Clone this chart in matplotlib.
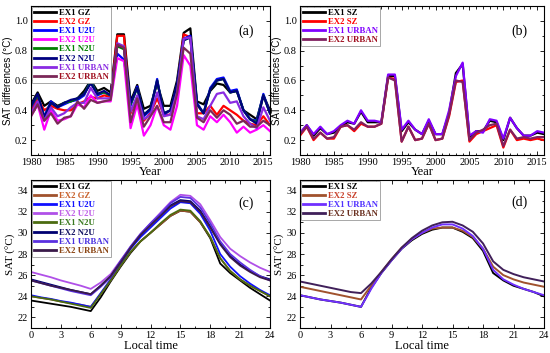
import numpy as np
import matplotlib.pyplot as plt
from matplotlib.ticker import MultipleLocator

plt.rcParams['font.family'] = ['Liberation Serif', 'DejaVu Serif']

years = np.arange(1980, 2017)
hours = np.arange(0, 25)

# panel (a): Guangzhou-type annual SAT differences
a_labels = ["EX1 GZ", "EX2 GZ", "EX1 U2U", "EX2 U2U", "EX1 N2U", "EX2 N2U", "EX1 URBAN", "EX2 URBAN"]
a_ex1_gz = [0.44, 0.52, 0.43, 0.46, 0.43, 0.45, 0.46, 0.48, 0.53, 0.60, 0.53, 0.55, 0.52, 0.91, 0.91, 0.46, 0.57, 0.41, 0.43,
            0.58, 0.43, 0.43, 0.60, 0.92, 0.95, 0.46, 0.44, 0.53, 0.58, 0.57, 0.52, 0.53, 0.40, 0.37, 0.34, 0.50, 0.40]
a_ex2_gz = [0.40, 0.48, 0.40, 0.43, 0.41, 0.40, 0.40, 0.44, 0.46, 0.49, 0.48, 0.50, 0.49, 0.90, 0.90, 0.38, 0.49, 0.33, 0.38,
            0.48, 0.37, 0.37, 0.56, 0.91, 0.89, 0.38, 0.38, 0.43, 0.37, 0.43, 0.40, 0.37, 0.33, 0.31, 0.30, 0.36, 0.30]
a_ex1_u2u = [0.42, 0.50, 0.36, 0.46, 0.42, 0.44, 0.46, 0.47, 0.50, 0.60, 0.50, 0.52, 0.50, 0.78, 0.74, 0.43, 0.56, 0.36, 0.40,
             0.61, 0.37, 0.40, 0.57, 0.88, 0.90, 0.45, 0.38, 0.55, 0.61, 0.62, 0.53, 0.54, 0.40, 0.34, 0.33, 0.51, 0.38]
a_ex2_u2u = [0.36, 0.44, 0.27, 0.40, 0.33, 0.34, 0.36, 0.44, 0.42, 0.50, 0.45, 0.46, 0.46, 0.75, 0.73, 0.28, 0.44, 0.23, 0.30,
             0.43, 0.30, 0.27, 0.43, 0.77, 0.70, 0.30, 0.27, 0.36, 0.32, 0.37, 0.32, 0.25, 0.29, 0.25, 0.27, 0.30, 0.26]
a_ex1_n2u = [0.43, 0.50, 0.35, 0.45, 0.42, 0.45, 0.46, 0.48, 0.51, 0.59, 0.51, 0.52, 0.50, 0.83, 0.81, 0.44, 0.55, 0.37, 0.41,
             0.60, 0.38, 0.40, 0.57, 0.87, 0.89, 0.44, 0.38, 0.54, 0.60, 0.61, 0.52, 0.53, 0.40, 0.34, 0.32, 0.50, 0.38]
a_ex2_n2u = [0.43, 0.51, 0.35, 0.45, 0.42, 0.45, 0.47, 0.48, 0.51, 0.58, 0.51, 0.53, 0.50, 0.84, 0.82, 0.45, 0.55, 0.37, 0.41,
             0.60, 0.38, 0.40, 0.58, 0.87, 0.89, 0.44, 0.38, 0.54, 0.60, 0.61, 0.52, 0.53, 0.40, 0.34, 0.31, 0.50, 0.38]
a_ex1_urban = [0.38, 0.46, 0.33, 0.42, 0.36, 0.38, 0.42, 0.45, 0.45, 0.55, 0.48, 0.48, 0.48, 0.85, 0.83, 0.39, 0.50, 0.34, 0.37,
               0.52, 0.36, 0.37, 0.52, 0.88, 0.89, 0.36, 0.34, 0.43, 0.51, 0.52, 0.45, 0.46, 0.36, 0.31, 0.28, 0.42, 0.33]
a_ex2_urban = [0.36, 0.44, 0.33, 0.38, 0.31, 0.35, 0.36, 0.46, 0.41, 0.47, 0.45, 0.46, 0.47, 0.84, 0.82, 0.32, 0.48, 0.29, 0.36,
               0.43, 0.32, 0.32, 0.51, 0.82, 0.78, 0.35, 0.32, 0.40, 0.35, 0.40, 0.37, 0.31, 0.33, 0.29, 0.29, 0.33, 0.30]
a_colors = ['black', '#ff0000', '#0000ff', '#ff00ff', '#008000', '#000080', '#8a2be2', '#7b2858']
a_text = ['black', '#ff0000', '#0000ff', '#ff00ff', '#008000', '#000080', '#8a2be2', '#a01020']

# panel (b): Shenzhen annual SAT differences
b_labels = ["EX1 SZ", "EX2 SZ", "EX1 URBAN", "EX2 URBAN"]
b_ex1_sz = [0.24, 0.30, 0.23, 0.28, 0.24, 0.25, 0.29, 0.32, 0.31, 0.39, 0.32, 0.32, 0.32, 0.63, 0.63, 0.26, 0.32, 0.27, 0.24,
            0.33, 0.24, 0.24, 0.38, 0.65, 0.71, 0.22, 0.26, 0.26, 0.33, 0.32, 0.20, 0.35, 0.28, 0.23, 0.23, 0.25, 0.24]
b_ex2_sz = [0.23, 0.29, 0.20, 0.25, 0.21, 0.21, 0.29, 0.30, 0.26, 0.31, 0.29, 0.29, 0.31, 0.62, 0.61, 0.19, 0.29, 0.20, 0.21,
            0.31, 0.20, 0.21, 0.36, 0.59, 0.60, 0.19, 0.24, 0.26, 0.28, 0.30, 0.15, 0.27, 0.20, 0.21, 0.20, 0.21, 0.20]
b_ex1_urban = [0.25, 0.30, 0.24, 0.29, 0.24, 0.26, 0.30, 0.33, 0.31, 0.40, 0.33, 0.33, 0.32, 0.64, 0.64, 0.27, 0.33, 0.27, 0.24,
               0.34, 0.24, 0.24, 0.40, 0.63, 0.72, 0.23, 0.26, 0.25, 0.34, 0.33, 0.21, 0.35, 0.28, 0.23, 0.23, 0.26, 0.25]
b_ex2_urban = [0.24, 0.29, 0.21, 0.25, 0.21, 0.22, 0.29, 0.30, 0.27, 0.32, 0.29, 0.29, 0.31, 0.62, 0.60, 0.19, 0.29, 0.20, 0.21,
               0.31, 0.20, 0.21, 0.37, 0.60, 0.59, 0.20, 0.25, 0.27, 0.30, 0.31, 0.16, 0.27, 0.21, 0.22, 0.21, 0.22, 0.22]
b_colors = ['black', '#ff0000', '#8000ff', '#802060']
b_text = ['black', '#ff0000', '#8000ff', '#a01020']

# panel (c): diurnal SAT, GZ
c_labels = a_labels
c_ex1_gz = [23.6, 23.45, 23.3, 23.15, 23.0, 22.8, 22.6, 23.9, 25.4, 26.8, 28.1, 29.2, 30.0, 30.8, 31.6, 32.1, 32.0, 31.0, 29.5,
            27.1, 26.2, 25.5, 24.8, 24.2, 23.6]
c_ex2_gz = [24.0, 23.85, 23.7, 23.5, 23.35, 23.2, 23.0, 24.2, 25.5, 26.9, 28.2, 29.2, 30.0, 30.8, 31.6, 32.1, 32.0, 31.0, 29.6,
            27.6, 26.4, 25.6, 25.0, 24.5, 24.0]
c_ex1_u2u = [24.1, 23.9, 23.75, 23.55, 23.4, 23.2, 23.0, 24.3, 25.6, 27.1, 28.5, 29.6, 30.5, 31.4, 32.3, 32.9, 32.8, 31.8, 30.2,
             28.0, 26.8, 25.9, 25.2, 24.6, 24.1]
c_ex2_u2u = [26.3, 26.05, 25.8, 25.5, 25.25, 25.0, 24.7, 25.3, 26.1, 27.4, 28.7, 29.9, 30.9, 31.9, 32.9, 33.6, 33.5, 32.7, 31.2,
             29.6, 28.5, 27.8, 27.2, 26.7, 26.3]
c_ex1_n2u = [24.0, 23.85, 23.7, 23.5, 23.3, 23.1, 22.9, 24.2, 25.5, 26.9, 28.2, 29.2, 30.0, 30.9, 31.7, 32.2, 32.1, 31.1, 29.6,
             27.6, 26.4, 25.6, 25.0, 24.5, 24.0]
c_ex2_n2u = [25.6, 25.35, 25.1, 24.85, 24.6, 24.4, 24.2, 25.0, 25.9, 27.3, 28.6, 29.8, 30.8, 31.7, 32.6, 33.1, 33.0, 32.1, 30.6,
             29.0, 27.8, 27.0, 26.4, 25.9, 25.6]
c_ex1_urban = [25.5, 25.25, 25.0, 24.75, 24.5, 24.3, 24.1, 24.9, 25.8, 27.3, 28.7, 29.9, 30.9, 31.8, 32.8, 33.4, 33.3, 32.4, 30.9,
               29.2, 28.0, 27.2, 26.5, 25.9, 25.5]
c_ex2_urban = [25.5, 25.25, 25.0, 24.8, 24.6, 24.4, 24.2, 25.0, 25.9, 27.2, 28.6, 29.8, 30.7, 31.6, 32.5, 33.0, 32.9, 32.0, 30.5,
               28.9, 27.7, 26.9, 26.3, 25.8, 25.5]
c_colors = ['black', '#a0522d', '#1010ff', '#b050e8', '#4b6b10', '#000070', '#5a30e0', '#3a1a4a']
c_text = ['black', '#c8602a', '#1010ff', '#c060e8', '#3a7a20', '#101060', '#4a30e0', '#8b4513']

# panel (d): diurnal SAT, SZ
d_labels = b_labels
d_ex1_sz = [24.1, 23.9, 23.7, 23.55, 23.4, 23.2, 23.0, 24.8, 26.2, 27.4, 28.5, 29.3, 29.9, 30.3, 30.5, 30.5, 30.1, 29.5, 28.3,
            26.2, 25.5, 25.0, 24.7, 24.4, 24.0]
d_ex2_sz = [24.9, 24.7, 24.5, 24.3, 24.1, 23.9, 23.7, 25.0, 26.3, 27.5, 28.6, 29.4, 30.0, 30.4, 30.5, 30.5, 30.2, 29.6, 28.5,
            26.8, 26.0, 25.6, 25.3, 25.1, 24.9]
d_ex1_urban = [24.1, 23.9, 23.7, 23.55, 23.4, 23.2, 23.0, 24.7, 26.2, 27.4, 28.5, 29.4, 30.0, 30.5, 30.8, 30.8, 30.4, 29.7, 28.5,
               26.5, 25.6, 25.1, 24.7, 24.4, 24.1]
d_ex2_urban = [25.4, 25.2, 25.0, 24.8, 24.6, 24.4, 24.3, 25.2, 26.3, 27.5, 28.6, 29.5, 30.2, 30.7, 31.0, 31.05, 30.7, 30.1, 29.0,
               27.3, 26.5, 26.1, 25.8, 25.6, 25.4]
d_colors = ['black', '#a0522d', '#7030ff', '#40205a']
d_text = ['black', '#c8402a', '#5030ff', '#6a3020']

fig = plt.figure(figsize=(5.5, 3.53), dpi=100)
ax_a = fig.add_axes([31/550, 1-155/353, 239/550, 149/353])
ax_b = fig.add_axes([300/550, 1-155/353, 244/550, 149/353])
ax_c = fig.add_axes([31/550, 1-328/353, 239/550, 148/353])
ax_d = fig.add_axes([300/550, 1-328/353, 244/550, 148/353])


def draw(ax, x, series, labels, colors, tcolors, lw):
    for s, lab, c in zip(series, labels, colors):
        ax.plot(x, s, color=c, lw=lw, label=lab)
    leg = ax.legend(loc='upper left', prop={'weight': 'bold', 'size': 6.3},
                    borderaxespad=0.1, handlelength=2.6, handletextpad=0.3, labelspacing=0.12,
                    borderpad=0.2, fancybox=False, edgecolor='#999999', framealpha=1)
    leg.get_frame().set_linewidth(0.6)
    for t, c in zip(leg.get_texts(), tcolors):
        t.set_color(c)
    for h in leg.get_lines():
        h.set_linewidth(2)
    ax.tick_params(which='both', direction='in', top=True, right=True, labelsize=7.5, width=0.6, pad=2.5)
    ax.tick_params(which='major', length=3)
    ax.tick_params(which='minor', length=1.8)
    for sp in ax.spines.values():
        sp.set_linewidth(0.8)


draw(ax_a, years, [a_ex1_gz, a_ex2_gz, a_ex1_u2u, a_ex2_u2u, a_ex1_n2u, a_ex2_n2u, a_ex1_urban, a_ex2_urban],
     a_labels, a_colors, a_text, 1.6)
draw(ax_b, years, [b_ex1_sz, b_ex2_sz, b_ex1_urban, b_ex2_urban], b_labels, b_colors, b_text, 1.6)
draw(ax_c, hours, [c_ex1_gz, c_ex2_gz, c_ex1_u2u, c_ex2_u2u, c_ex1_n2u, c_ex2_n2u, c_ex1_urban, c_ex2_urban],
     c_labels, c_colors, c_text, 1.3)
draw(ax_d, hours, [d_ex1_sz, d_ex2_sz, d_ex1_urban, d_ex2_urban], d_labels, d_colors, d_text, 1.4)

for ax in (ax_a, ax_b):
    ax.set_xlim(1980, 2016)
    ax.set_ylim(0.1, 1.1)
    ax.xaxis.set_major_locator(MultipleLocator(5))
    ax.xaxis.set_minor_locator(MultipleLocator(1))
    ax.yaxis.set_major_locator(MultipleLocator(0.2))
    ax.yaxis.set_minor_locator(MultipleLocator(0.1))
    ax.set_xlabel('Year', fontsize=9, labelpad=-1)
    ax.set_ylabel('SAT differences (\u00b0C)', fontsize=7, family='Liberation Sans', labelpad=1)

for ax in (ax_c, ax_d):
    ax.set_xlim(0, 24)
    ax.set_ylim(21, 35)
    ax.xaxis.set_major_locator(MultipleLocator(3))
    ax.xaxis.set_minor_locator(MultipleLocator(1.5))
    ax.yaxis.set_major_locator(MultipleLocator(2))
    ax.yaxis.set_minor_locator(MultipleLocator(1))
    ax.set_xlabel('Local time', fontsize=9, labelpad=0)
    ax.set_ylabel('SAT (\u00b0C)', fontsize=8, labelpad=1)

for ax, tag, ty in zip((ax_a, ax_b, ax_c, ax_d), ('(a)', '(b)', '(c)', '(d)'), (0.83, 0.83, 0.845, 0.85)):
    ax.text(0.9, ty, tag, transform=ax.transAxes, fontsize=10, ha='center', va='center')

fig.savefig('out.png', dpi=100)
